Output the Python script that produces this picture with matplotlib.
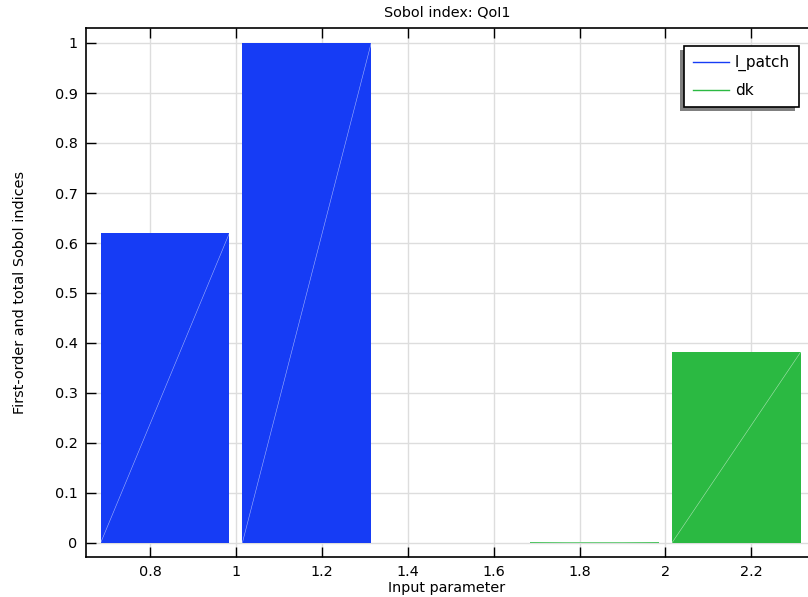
import numpy as np
import matplotlib
matplotlib.use("Agg")
from matplotlib import pyplot as plt
from matplotlib.patches import Rectangle
from matplotlib.lines import Line2D

# data
params = ["l_patch", "dk"]
group_pos = [1.0, 2.0]
first_order = [0.62, 0.002]
total = [1.0, 0.382]
colors = ["#163cf5", "#2bb942"]
xticks = [0.8, 1, 1.2, 1.4, 1.6, 1.8, 2, 2.2]
yticks = [0, 0.1, 0.2, 0.3, 0.4, 0.5, 0.6, 0.7, 0.8, 0.9, 1]

width = 0.3
offset = 0.165
fs = 10.4

fig = plt.figure(figsize=(8.08, 5.97), dpi=100)
ax = fig.add_axes([86/808, 40/597, (808-86)/808, (557-28)/597])

for g, f, t, c in zip(group_pos, first_order, total, colors):
    for xc, h in [(g - offset, f), (g + offset, t)]:
        ax.bar(xc, h, width=width, color=c, edgecolor="none", zorder=2)
        # thin diagonal seam like the original render
        ax.plot([xc - width/2, xc + width/2], [0, h], color="white",
                lw=0.4, alpha=0.6, zorder=3)

ax.set_xlim(0.651, 2.332)
ax.set_ylim(-0.028, 1.03)
ax.set_xticks(xticks)
ax.set_xticklabels(["0.8", "1", "1.2", "1.4", "1.6", "1.8", "2", "2.2"])
ax.set_yticks(yticks)
ax.set_yticklabels(["0", "0.1", "0.2", "0.3", "0.4", "0.5", "0.6", "0.7", "0.8", "0.9", "1"])
ax.tick_params(direction="in", top=True, right=False, length=7, width=1,
               labelsize=fs, pad=6)
ax.spines["right"].set_visible(False)
for s in ["left", "bottom", "top"]:
    ax.spines[s].set_linewidth(1.2)
ax.grid(True, color="#dddddd", lw=1, zorder=0)
ax.set_axisbelow(True)

ax.set_title("Sobol index: QoI1", fontsize=fs, pad=8)
ax.set_xlabel("Input parameter", fontsize=fs, labelpad=1)
ax.set_ylabel("First-order and total Sobol indices", fontsize=fs, labelpad=20)

handles = [Line2D([0], [0], color=c, lw=1) for c in colors]
leg = fig.legend(handles, params, loc="upper right",
                 bbox_to_anchor=(799/808, 1 - 46/597),
                 fancybox=False, framealpha=1, edgecolor="black", fontsize=11,
                 handlelength=2.3, handletextpad=0.4, borderpad=0.6,
                 labelspacing=0.78, borderaxespad=0)
leg.get_frame().set_linewidth(1.2)
leg.set_zorder(5)

fig.canvas.draw()
bb = leg.get_window_extent()
shadow = Rectangle((bb.x0 - 4, bb.y0 - 4), bb.width, bb.height,
                   transform=None, facecolor="#808080", edgecolor="none", zorder=4)
fig.add_artist(shadow)

fig.savefig("out.png", dpi=100)
